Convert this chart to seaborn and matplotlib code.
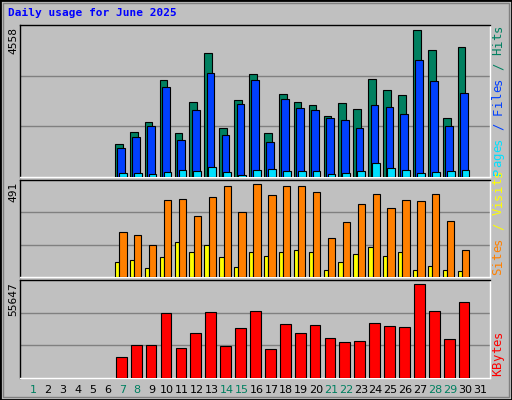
import matplotlib
matplotlib.use("Agg")
import matplotlib.pyplot as plt
import seaborn as sns
import numpy as np
from matplotlib.patches import Rectangle

sns.set_style("white")
plt.rcParams['font.family'] = ['DejaVu Sans Mono', 'DejaVu Sans']

days = list(range(1, 32))
weekend_days = [1, 7, 8, 14, 15, 21, 22, 28, 29]
data_days = list(range(7, 31))
hits = [1031, 1402, 1712, 3011, 1371, 2330, 3846, 1526, 2392, 3196, 1371, 2578,
        2330, 2237, 1897, 2299, 2114, 3042, 2701, 2547, 4558, 3939, 1835, 4032]
files = [907, 1248, 1588, 2794, 1155, 2083, 3227, 1309, 2268, 3011, 1093, 2423,
         2144, 2083, 1835, 1773, 1526, 2237, 2175, 1959, 3629, 2980, 1588, 2608]
pages = [134, 134, 103, 165, 227, 196, 320, 165, 72, 227, 258, 196,
         196, 196, 103, 134, 196, 443, 289, 227, 134, 165, 196, 227]
sites = [240, 224, 171, 406, 411, 320, 422, 480, 342, 491, 432, 480,
         480, 448, 208, 288, 384, 438, 363, 406, 400, 438, 294, 144]
visits = [80, 91, 48, 107, 187, 133, 171, 107, 53, 133, 112, 133,
          144, 133, 37, 80, 123, 160, 112, 133, 37, 59, 37, 32]
kbytes = [12389, 19701, 19701, 38589, 17873, 26403, 39198, 19091, 29449, 39807, 17263, 31886,
          26403, 31277, 23966, 21528, 22137, 32496, 30668, 30058, 55647, 39807, 23356, 45290]

W, H = 512, 400
fig = plt.figure(figsize=(W/100, H/100), dpi=100)
fig.patch.set_facecolor('#C0C0C0')

def fx(px): return px / W
def fy(py): return 1 - py / H

fig.add_artist(Rectangle((0, 0), 1, 1, transform=fig.transFigure, fill=False,
                         edgecolor='black', lw=2))
fig.add_artist(Rectangle((fx(3), fy(397)), fx(506), 394/H, transform=fig.transFigure,
                         fill=False, edgecolor='#808080', lw=1))

fig.text(fx(8), fy(16), "Daily usage for June 2025", color='#0000FF',
         fontsize=8, fontweight='bold', va='baseline', ha='left')

BG = '#C0C0C0'
GRID = '#808080'
x = np.array(data_days, dtype=float)

def make_ax(top, bottom, ymax_val, frac):
    ax = fig.add_axes([fx(20), fy(bottom), fx(470), (bottom - top)/H])
    ax.set_facecolor(BG)
    ymax = ymax_val * frac
    ax.set_xlim(0.13, 31.67)
    ax.set_ylim(0, ymax)
    for g in (ymax/3, 2*ymax/3):
        ax.axhline(g, color=GRID, lw=1, zorder=0)
    ax.set_xticks([]); ax.set_yticks([])
    for s in ax.spines.values():
        s.set_color('black'); s.set_linewidth(1)
    ax.spines['bottom'].set_color('white')
    ax.spines['right'].set_color('white')
    fig.text(fx(13), fy(top + 2), str(ymax_val), rotation=90, fontsize=8,
             ha='center', va='top', color='black')
    return ax

def right_label(bottom, parts):
    ch = 7.5
    y = bottom - 2 - ch / 2
    for txt, col in parts:
        for c in txt:
            if c != ' ':
                fig.text(fx(498), fy(y), c, rotation=90, fontsize=8.8, color=col,
                         ha='center', va='center')
            y -= ch

kw = dict(edgecolor='black', linewidth=0.8, align='edge', zorder=3)

ax1 = make_ax(25, 177, max(hits), 456/442)
ax1.bar(x - 0.5, hits, width=0.52, color='#008060', **kw)
ax1.bar(x - 0.34, files, width=0.52, color='#0040FF', **kw)
ax1.bar(x - 0.23, pages, width=0.52, color='#00E0FF', **kw)
right_label(177, [("Pages", '#00E0FF'), (" / ", '#0040FF'), ("Files", '#0040FF'),
                  (" / ", '#008060'), ("Hits", '#008060')])

ax2 = make_ax(180, 277, max(sites), 288/276)
ax2.bar(x - 0.5, visits, width=0.29, color='#FFFF00', **kw)
ax2.bar(x - 0.21, sites, width=0.49, color='#FF8000', **kw)
right_label(277, [("Sites", '#FF8000'), (" / ", '#FFFF00'), ("Visits", '#FFFF00')])

ax3 = make_ax(280, 378, max(kbytes), 286/274)
ax3.bar(x - 0.43, kbytes, width=0.72, color='#FF0000', **kw)
right_label(378, [("KBytes", '#FF0000')])

for d in days:
    px = 33 + (d - 1) * 14.9
    fig.text(fx(px), fy(390), str(d), fontsize=8, ha='center', va='center',
             family=['DejaVu Sans'],
             color='#008060' if d in weekend_days else 'black')

fig.savefig("out.png", dpi=100, facecolor=fig.get_facecolor())
